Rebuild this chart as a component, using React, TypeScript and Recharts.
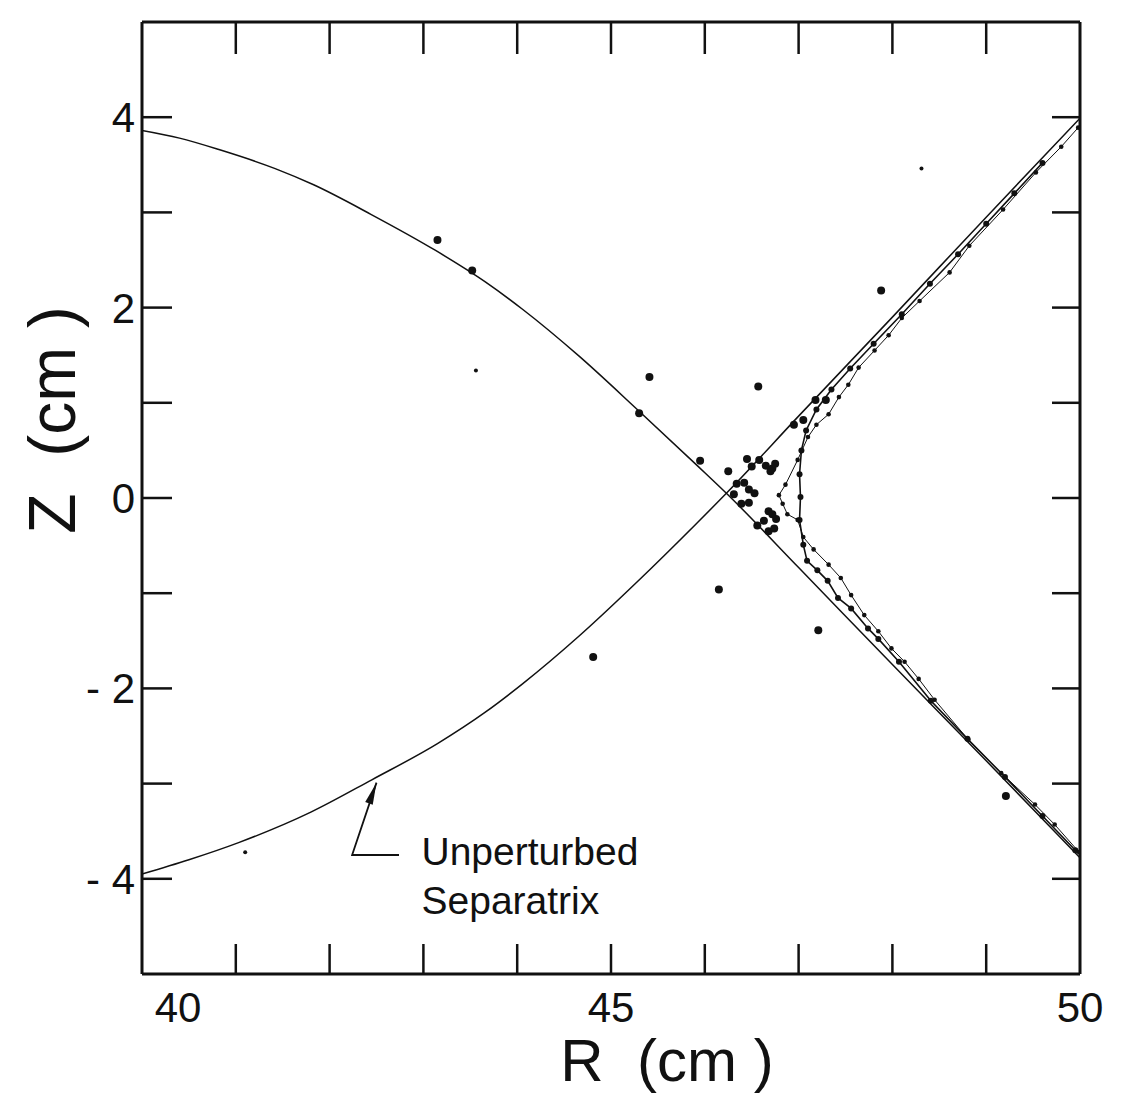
import React from "react";
import { ScatterChart, Scatter, XAxis, YAxis } from "recharts";

type Pt = { r: number; z: number };

// unperturbed separatrix, two branches crossing at the X-point
const sepUpper: Pt[] = [
  { r: 40, z: 3.86 }, { r: 40.4, z: 3.78 }, { r: 40.82, z: 3.66 },
  { r: 41.42, z: 3.46 }, { r: 41.83, z: 3.29 }, { r: 42.44, z: 2.98 },
  { r: 43.13, z: 2.6 }, { r: 43.66, z: 2.27 }, { r: 44.06, z: 1.98 },
  { r: 44.66, z: 1.49 }, { r: 45.28, z: 0.93 }, { r: 45.92, z: 0.34 },
  { r: 46.23, z: 0.05 }, { r: 47, z: -0.73 }, { r: 48, z: -1.75 },
  { r: 49, z: -2.76 }, { r: 50, z: -3.78 },
];
const sepLower: Pt[] = [
  { r: 40, z: -3.95 }, { r: 40.5, z: -3.8 }, { r: 41.03, z: -3.62 },
  { r: 41.8, z: -3.3 }, { r: 42.45, z: -2.96 }, { r: 43.15, z: -2.58 },
  { r: 43.66, z: -2.25 }, { r: 44.06, z: -1.95 }, { r: 44.66, z: -1.45 },
  { r: 45.28, z: -0.88 }, { r: 45.92, z: -0.26 }, { r: 46.23, z: 0.05 },
  { r: 47, z: 0.86 }, { r: 48, z: 1.9 }, { r: 49, z: 2.95 }, { r: 50, z: 3.99 },
];

// perturbed separatrix traces (dotted)
const traceOuter: Pt[] = [
  { r: 49.98, z: 3.89 }, { r: 49.8, z: 3.69 }, { r: 49.53, z: 3.42 },
  { r: 49.18, z: 3.03 }, { r: 48.82, z: 2.65 }, { r: 48.61, z: 2.37 },
  { r: 48.29, z: 2.07 }, { r: 48.1, z: 1.89 }, { r: 47.96, z: 1.71 },
  { r: 47.81, z: 1.55 }, { r: 47.64, z: 1.37 }, { r: 47.53, z: 1.19 },
  { r: 47.43, z: 1.06 }, { r: 47.32, z: 0.88 }, { r: 47.19, z: 0.77 },
  { r: 47.1, z: 0.64 }, { r: 46.99, z: 0.4 }, { r: 46.86, z: 0.14 },
  { r: 46.79, z: 0.03 }, { r: 46.83, z: -0.06 }, { r: 46.88, z: -0.17 },
  { r: 46.99, z: -0.23 }, { r: 47.05, z: -0.41 }, { r: 47.16, z: -0.54 },
  { r: 47.32, z: -0.7 }, { r: 47.45, z: -0.84 }, { r: 47.56, z: -1.02 },
  { r: 47.7, z: -1.23 }, { r: 47.85, z: -1.4 }, { r: 47.99, z: -1.58 },
  { r: 48.13, z: -1.72 }, { r: 48.28, z: -1.9 }, { r: 48.45, z: -2.12 },
  { r: 48.81, z: -2.54 }, { r: 49.16, z: -2.89 }, { r: 49.52, z: -3.22 },
  { r: 49.73, z: -3.43 }, { r: 49.99, z: -3.72 },
];
const traceInner: Pt[] = [
  { r: 49.6, z: 3.52 }, { r: 49.3, z: 3.2 }, { r: 49.0, z: 2.88 },
  { r: 48.7, z: 2.56 }, { r: 48.4, z: 2.25 }, { r: 48.1, z: 1.93 },
  { r: 47.8, z: 1.62 }, { r: 47.55, z: 1.36 }, { r: 47.35, z: 1.14 },
  { r: 47.19, z: 0.93 }, { r: 47.08, z: 0.71 }, { r: 47.03, z: 0.5 },
  { r: 47.01, z: 0.25 }, { r: 47.02, z: 0.01 }, { r: 47.01, z: -0.23 },
  { r: 47.05, z: -0.49 }, { r: 47.09, z: -0.66 }, { r: 47.2, z: -0.76 },
  { r: 47.31, z: -0.87 }, { r: 47.42, z: -1.05 }, { r: 47.56, z: -1.16 },
  { r: 47.74, z: -1.37 }, { r: 47.85, z: -1.48 }, { r: 48.07, z: -1.72 },
  { r: 48.41, z: -2.13 }, { r: 48.8, z: -2.53 }, { r: 49.2, z: -2.93 },
  { r: 49.6, z: -3.34 }, { r: 49.95, z: -3.7 },
];

// isolated puncture points
const bigDots: Pt[] = [
  { r: 43.15, z: 2.71 }, { r: 43.52, z: 2.39 }, { r: 45.41, z: 1.27 },
  { r: 45.3, z: 0.89 }, { r: 45.95, z: 0.39 }, { r: 46.57, z: 1.17 },
  { r: 46.15, z: -0.96 }, { r: 47.21, z: -1.39 }, { r: 44.81, z: -1.67 },
  { r: 49.21, z: -3.13 }, { r: 47.88, z: 2.18 }, { r: 47.18, z: 1.03 },
  { r: 47.29, z: 1.03 }, { r: 47.05, z: 0.82 }, { r: 46.95, z: 0.77 },
];
const smallDots: Pt[] = [
  { r: 43.56, z: 1.34 }, { r: 41.1, z: -3.72 }, { r: 48.31, z: 3.46 },
];
const clusterDots: Pt[] = [
  { r: 46.25, z: 0.28 }, { r: 46.45, z: 0.41 }, { r: 46.58, z: 0.4 },
  { r: 46.5, z: 0.33 }, { r: 46.65, z: 0.34 }, { r: 46.34, z: 0.15 },
  { r: 46.42, z: 0.16 }, { r: 46.31, z: 0.04 }, { r: 46.47, z: 0.09 },
  { r: 46.53, z: 0.05 }, { r: 46.39, z: -0.06 }, { r: 46.47, z: -0.05 },
  { r: 46.56, z: -0.29 }, { r: 46.63, z: -0.24 }, { r: 46.68, z: -0.35 },
  { r: 46.74, z: -0.32 }, { r: 46.7, z: 0.28 }, { r: 46.72, z: 0.31 },
  { r: 46.75, z: 0.36 }, { r: 46.68, z: -0.14 }, { r: 46.72, z: -0.17 },
  { r: 46.76, z: -0.22 },
];

// annotation
const arrowPath: Pt[] = [{ r: 42.74, z: -3.75 }, { r: 42.24, z: -3.75 }, { r: 42.5, z: -2.99 }];
const arrowTip: Pt[] = [{ r: 42.5, z: -2.99 }];
const noteAnchor: Pt[] = [{ r: 42.98, z: -3.86 }];
const noteLines = ["Unperturbed", "Separatrix"];

const rTicks = [41, 42, 43, 44, 45, 46, 47, 48, 49];
const rTickLabels = [40, 45, 50];
const zTicks = [-4, -3, -2, -1, 0, 1, 2, 3, 4];
const zTickLabels = [-4, -2, 0, 2, 4];

const INK = "#111";
const FONT = "'Liberation Sans', Arial, sans-serif";
const frame = { stroke: INK, strokeWidth: 3 };
const tickStroke = { stroke: INK, strokeWidth: 2.5 };

const dot = (rad: number) => (p: any) => <circle cx={p.cx} cy={p.cy} r={rad} fill={INK} />;
const noDot = () => <g />;
const noLabel = () => <g />;

const RTick = ({ x, y, payload }: any) => (
  <text x={x + (payload.value === 40 ? 36 : 0)} y={y} dy={48} textAnchor="middle"
    fontSize={42} fontFamily={FONT} fill={INK}>
    {payload.value}
  </text>
);

const ZTick = ({ x, y, payload }: any) => (
  <text x={x} y={y} dy={15} textAnchor="end" fontSize={42} fontFamily={FONT} fill={INK}>
    {payload.value < 0 ? `- ${-payload.value}` : payload.value}
  </text>
);

const ArrowHead = (p: any) => (
  <polygon points="0,0 -22,-4 -22,4" fill={INK} transform={`translate(${p.cx},${p.cy}) rotate(-70)`} />
);

const Note = (p: any) => (
  <text x={p.cx} y={p.cy} fontSize={39} fontFamily={FONT} fill={INK}>
    {noteLines.map((s, i) => (
      <tspan key={s} x={p.cx} dy={i === 0 ? 0 : 49}>{s}</tspan>
    ))}
  </text>
);

const zLabel = (p: any) => {
  const vb = p.viewBox;
  const cx = vb.x + 44;
  const cy = vb.y + vb.height / 2 - 78;
  return (
    <text x={cx} y={cy} transform={`rotate(-90 ${cx} ${cy})`} textAnchor="middle"
      dominantBaseline="central" fontSize={66} fontFamily={FONT} fill={INK} style={{ whiteSpace: "pre" }}>
      {"Z  (cm )"}
    </text>
  );
};

const rLabel = (p: any) => {
  const vb = p.viewBox;
  return (
    <text x={vb.x + vb.width / 2 + 56} y={vb.y + 107} textAnchor="middle"
      fontSize={60} fontFamily={FONT} fill={INK} style={{ whiteSpace: "pre" }}>
      {"R  (cm )"}
    </text>
  );
};

export default function App(): JSX.Element {
  return (
    <ScatterChart width={1117} height={1087} margin={{ top: 14, right: 45, bottom: 0, left: 0 }}>
      {/* label axes */}
      <XAxis xAxisId="lab" dataKey="r" type="number" domain={[40, 50]} allowDataOverflow
        ticks={rTickLabels} tickLine={false} axisLine={false} tickSize={0} tickMargin={0}
        height={121} tick={<RTick />} label={{ content: rLabel }} />
      <YAxis yAxisId="lab" dataKey="z" type="number" domain={[-5, 5]} allowDataOverflow
        ticks={zTickLabels} tickLine={false} axisLine={false} tickSize={0} tickMargin={7}
        width={134} tick={<ZTick />} label={{ content: zLabel }} />
      {/* frame with inward ticks */}
      <XAxis xAxisId="bot" dataKey="r" type="number" domain={[40, 50]} allowDataOverflow
        orientation="bottom" mirror ticks={rTicks} tick={noLabel} tickSize={30}
        tickLine={tickStroke} axisLine={frame} />
      <XAxis xAxisId="top" dataKey="r" type="number" domain={[40, 50]} allowDataOverflow
        orientation="top" mirror ticks={rTicks} tick={noLabel} tickSize={32}
        tickLine={tickStroke} axisLine={frame} />
      <YAxis yAxisId="left" dataKey="z" type="number" domain={[-5, 5]} allowDataOverflow
        orientation="left" mirror ticks={zTicks} tick={noLabel} tickSize={30}
        tickLine={tickStroke} axisLine={frame} />
      <YAxis yAxisId="right" dataKey="z" type="number" domain={[-5, 5]} allowDataOverflow
        orientation="right" mirror ticks={zTicks} tick={noLabel} tickSize={28}
        tickLine={tickStroke} axisLine={frame} />

      <Scatter xAxisId="lab" yAxisId="lab" data={sepUpper} shape={noDot} lineJointType="monotoneX"
        line={{ stroke: INK, strokeWidth: 1.5 }} isAnimationActive={false} />
      <Scatter xAxisId="bot" yAxisId="left" data={sepLower} shape={noDot} lineJointType="monotoneX"
        line={{ stroke: INK, strokeWidth: 1.5 }} isAnimationActive={false} />
      <Scatter xAxisId="top" yAxisId="right" data={traceOuter} shape={dot(2.3)}
        line={{ stroke: INK, strokeWidth: 1 }} isAnimationActive={false} />
      <Scatter xAxisId="lab" yAxisId="lab" data={traceInner} shape={dot(3)}
        line={{ stroke: INK, strokeWidth: 1.6 }} isAnimationActive={false} />
      <Scatter xAxisId="lab" yAxisId="lab" data={bigDots} shape={dot(4)} isAnimationActive={false} />
      <Scatter xAxisId="lab" yAxisId="lab" data={clusterDots} shape={dot(4)} isAnimationActive={false} />
      <Scatter xAxisId="lab" yAxisId="lab" data={smallDots} shape={dot(2)} isAnimationActive={false} />
      <Scatter xAxisId="lab" yAxisId="lab" data={arrowPath} shape={noDot}
        line={{ stroke: INK, strokeWidth: 1.8 }} isAnimationActive={false} />
      <Scatter xAxisId="lab" yAxisId="lab" data={arrowTip} shape={ArrowHead} isAnimationActive={false} />
      <Scatter xAxisId="lab" yAxisId="lab" data={noteAnchor} shape={Note} isAnimationActive={false} />
    </ScatterChart>
  );
}
